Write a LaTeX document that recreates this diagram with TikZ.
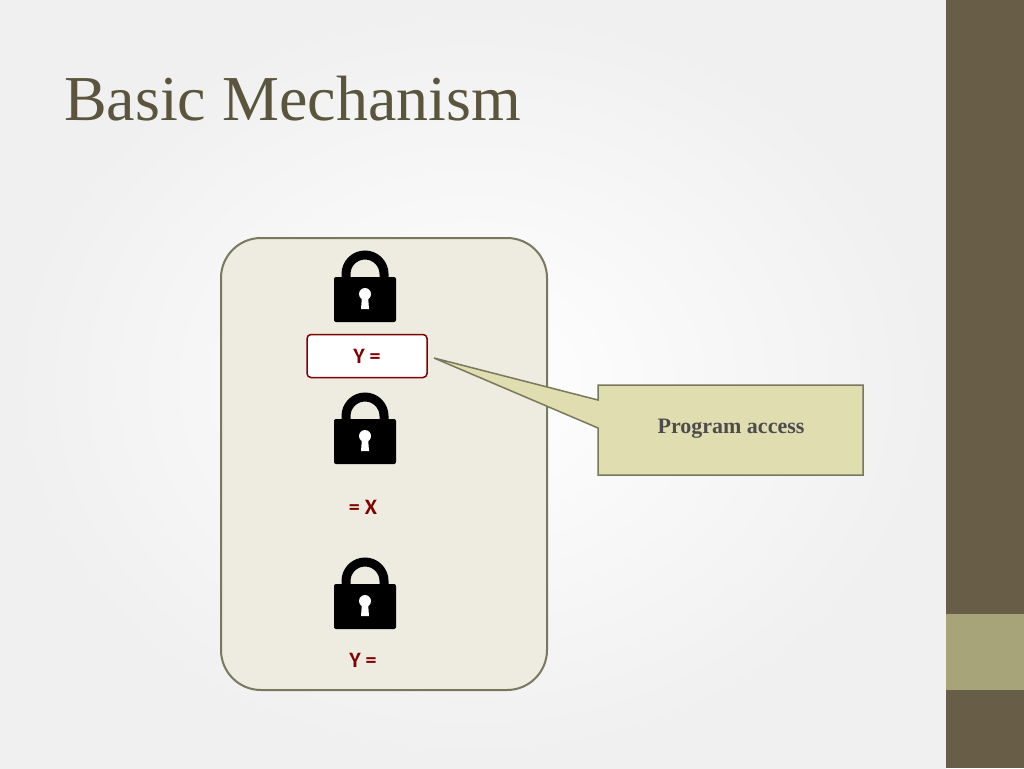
\documentclass[tikz,border=0pt]{standalone}
\usepackage{fontspec}
\setmainfont{Liberation Serif}
\setsansfont{Carlito}
\begin{document}
\begin{tikzpicture}[x=1pt,y=-1pt,
  lockst/.pic={
    \fill[black,rounded corners=2pt] (-31,-13) rectangle (31,32);
    \draw[black,line width=9pt] (-19,-10) -- (-19,-16) arc[start angle=180,end angle=360,radius=19] -- (19,-10);
    \fill[white] (0,4) circle (6);
    \fill[white] (-3,6) -- (3,6) -- (4,19) -- (-4,19) -- cycle;
  },
  val/.style={font=\sffamily\bfseries\fontsize{22}{26}\selectfont,text=red!50!black}]
\definecolor{barc}{RGB}{104,93,70}
\definecolor{barl}{RGB}{168,164,122}
\definecolor{boxf}{RGB}{238,236,225}
\definecolor{boxd}{RGB}{120,120,90}
\definecolor{callf}{RGB}{224,222,176}
\definecolor{titlec}{RGB}{90,85,60}
\useasboundingbox (0,0) rectangle (1024,768);
\shade[inner color=white,outer color=black!6] (0,0) rectangle (946,768);
\fill[barc] (946,0) rectangle (1024,768);
\fill[barl] (946,614) rectangle (1024,690);
\node[anchor=base west,text=titlec,font=\fontsize{64}{72}\selectfont,inner sep=0] (title) at (64,120) {Basic Mechanism};
\draw[boxd,fill=boxf,line width=2pt,rounded corners=40pt] (221,238) rectangle (547,690);
\pic at (365,290) {lockst};
\pic at (365,432) {lockst};
\pic at (365,597) {lockst};
\node[draw=red!50!black,line width=1.5pt,rounded corners=4pt,fill=white,minimum width=120pt,minimum height=43pt,val] (y1) at (367,356) {Y =};
\node[val] (x) at (363,507) {= X};
\node[val] (y2) at (363,660) {Y =};
\draw[boxd,fill=callf,line width=1.5pt] (598,385) -- (863,385) -- (863,475) -- (598,475) -- (598,428) -- (434,358) -- (598,400) -- cycle;
\node[font=\bfseries\fontsize{22}{26}\selectfont,text=black!70] (call) at (731,429) {Program access};
\end{tikzpicture}
\end{document}
